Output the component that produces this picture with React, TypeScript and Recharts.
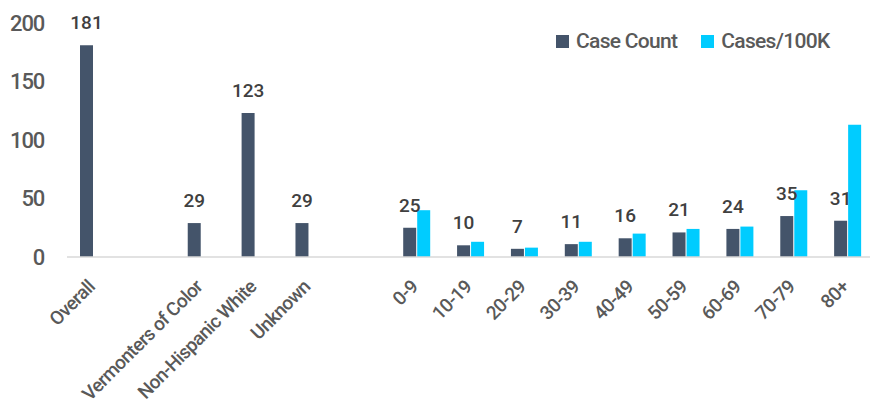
import { Bar, BarChart, XAxis, YAxis, Legend, LabelList } from "recharts"

const categories = [
  "Overall",
  " ",
  "Vermonters of Color",
  "Non-Hispanic White",
  "Unknown",
  "  ",
  "0-9",
  "10-19",
  "20-29",
  "30-39",
  "40-49",
  "50-59",
  "60-69",
  "70-79",
  "80+",
]

const caseCount = [181, null, 29, 123, 29, null, 25, 10, 7, 11, 16, 21, 24, 35, 31]
const casesPer100k = [null, null, null, null, null, null, 40, 13, 8, 13, 20, 24, 26, 57, 113]

const yTicks = [0, 50, 100, 150, 200]

const data = categories.map((name, i) => ({
  name,
  count: caseCount[i],
  rate: casesPer100k[i],
}))

const FONT = 'Roboto, "Liberation Sans", sans-serif'
const DARK = "#44546A"
const CYAN = "#00CCFF"

function AngledTick(props: any) {
  const { x, y, payload } = props
  return (
    <g transform={`translate(${x + 2},${y + 31})`}>
      <text x={0} y={0} textAnchor="end" transform="rotate(-45)" fill="#595959" fontSize={19} fontWeight={500} fontFamily={FONT} letterSpacing={-0.6}>
        {payload.value}
      </text>
    </g>
  )
}

function LegendContent() {
  const items = [
    { label: "Case Count", color: DARK },
    { label: "Cases/100K", color: CYAN },
  ]
  return (
    <div style={{ display: "flex", alignItems: "center", fontFamily: FONT, fontSize: 21, fontWeight: 500, color: "#595959", letterSpacing: -0.7 }}>
      {items.map((it) => (
        <div key={it.label} style={{ display: "flex", alignItems: "center", marginRight: 24 }}>
          <span style={{ width: 13, height: 13, background: it.color, display: "inline-block", marginRight: 7 }} />
          <span>{it.label}</span>
        </div>
      ))}
    </div>
  )
}

export default function App() {
  return (
    <div style={{ position: "absolute", left: 0, top: 0, width: 870, height: 407, overflow: "hidden", background: "#fff" }}>
      <BarChart
        width={876}
        height={407}
        data={data}
        margin={{ top: 23, right: 1, bottom: 0, left: 0 }}
        barSize={13}
        barGap={1}
      >
        <XAxis
          dataKey="name"
          interval={0}
          height={150}
          tickLine={false}
          tickSize={0}
          tickMargin={0}
          axisLine={{ stroke: "#D9D9D9", strokeWidth: 1.5 }}
          tick={<AngledTick />}
        />
        <YAxis
          width={67}
          domain={[0, 200]}
          ticks={yTicks}
          axisLine={false}
          tickLine={false}
          tickSize={0}
          tickMargin={23}
          tick={{ fill: "#595959", fontSize: 22, fontWeight: 500, fontFamily: FONT, letterSpacing: -1.2 }}
        />
        <Legend
          layout="horizontal"
          verticalAlign="middle"
          align="center"
          wrapperStyle={{ top: 29, left: 556, width: "auto" }}
          content={<LegendContent />}
        />
        <Bar dataKey="count" name="Case Count" fill={DARK} isAnimationActive={false}>
          <LabelList dataKey="count" position="top" offset={16} fill="#404040" fontSize={19} fontWeight={500} fontFamily={FONT} />
        </Bar>
        <Bar dataKey="rate" name="Cases/100K" fill={CYAN} isAnimationActive={false} />
      </BarChart>
    </div>
  )
}
